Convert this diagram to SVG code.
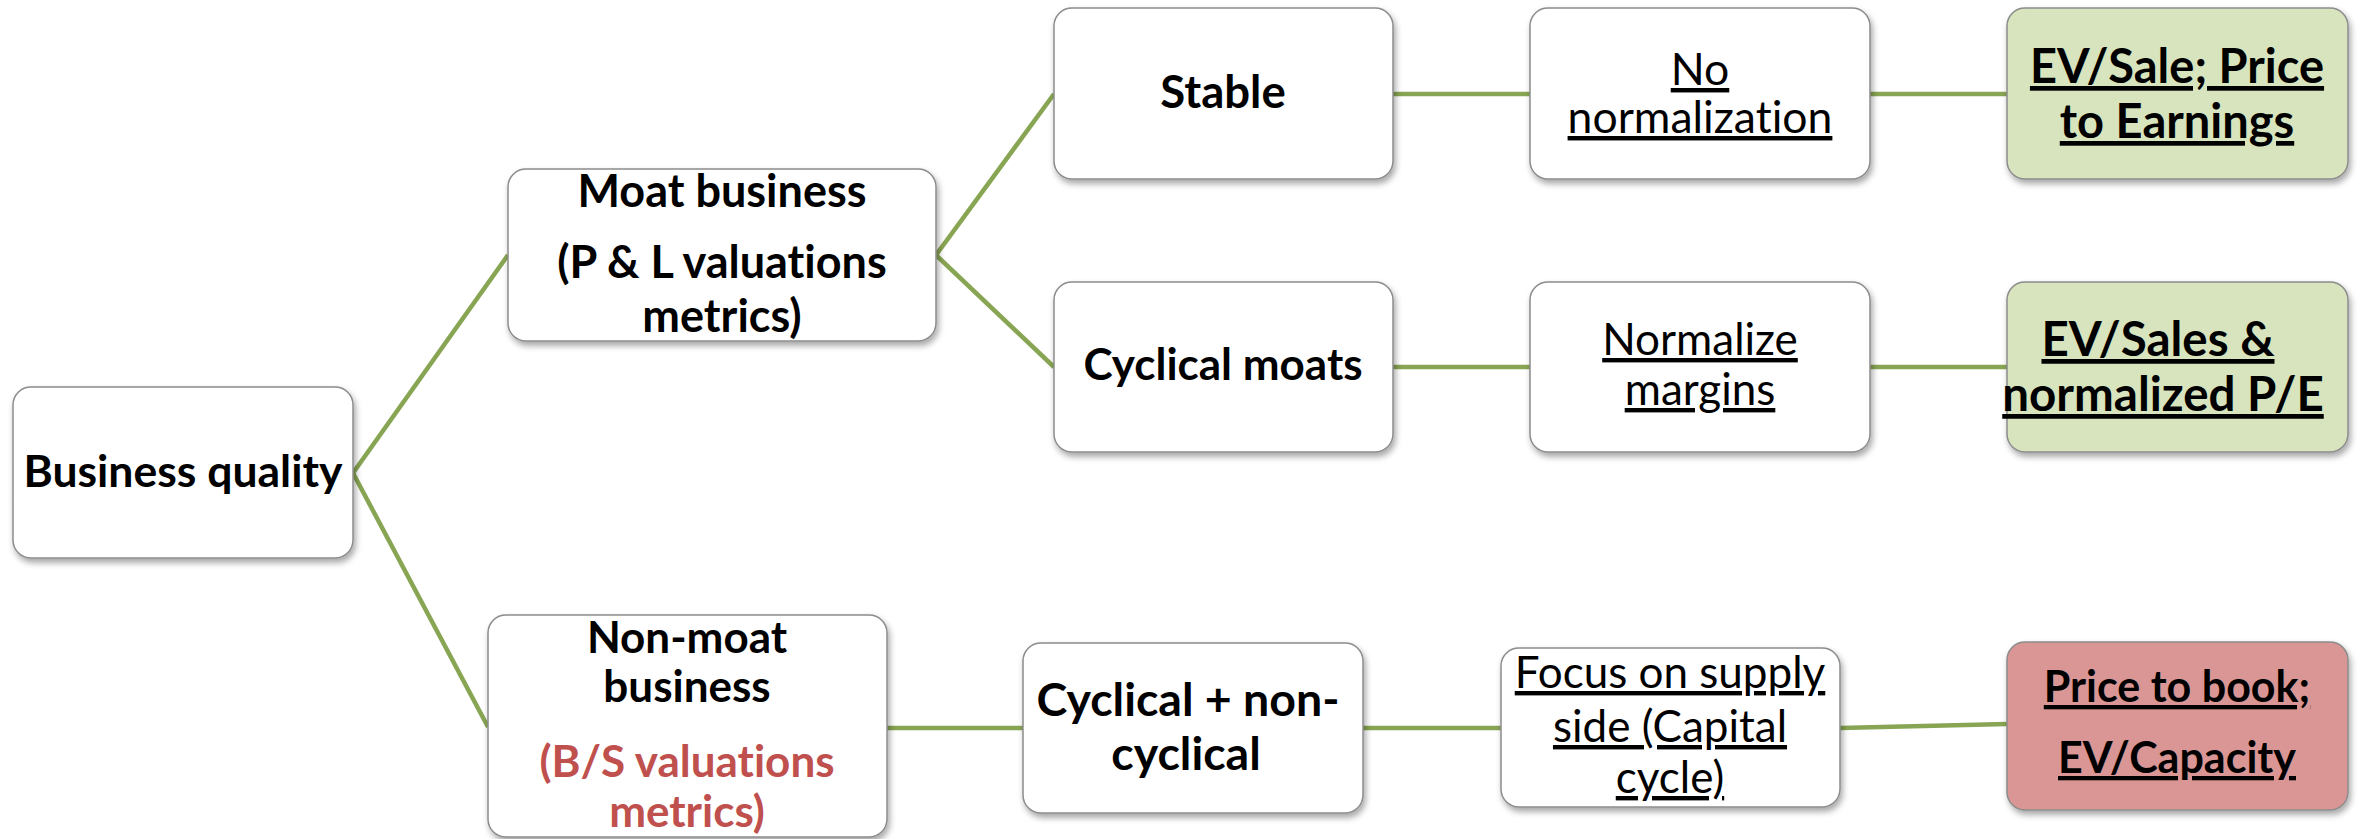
<svg xmlns="http://www.w3.org/2000/svg" width="2358" height="839" viewBox="0 0 2358 839">
  <defs>
    <filter id="shadow" x="-10%" y="-10%" width="120%" height="130%">
      <feDropShadow dx="2" dy="4" stdDeviation="3" flood-color="#000" flood-opacity="0.35"/>
    </filter>
    <style>
      .box { fill: #ffffff; stroke: #8c8c8c; stroke-width: 1.5; filter: url(#shadow); }
      .green { fill: #d7e4bd; }
      .red { fill: #d99694; }
      .link { stroke: #88a553; stroke-width: 4.5; fill: none; }
      text { font-family: Lato, "Open Sans", "Liberation Sans", sans-serif; fill: #000; text-anchor: middle; font-variant-ligatures: none; font-feature-settings: "liga" 0, "clig" 0; }
      .b { font-weight: bold; }
      .u { text-decoration: underline; }
      .rd { fill: #c0504d; }
    </style>
  </defs>
  <rect width="2358" height="839" fill="#ffffff"/>

  <!-- connectors -->
  <g id="connectors">
    <line class="link" x1="353" y1="473" x2="508" y2="255"/>
    <line class="link" x1="353" y1="473" x2="488" y2="727"/>
    <line class="link" x1="936" y1="255" x2="1054" y2="94"/>
    <line class="link" x1="936" y1="255" x2="1054" y2="367"/>
    <line class="link" x1="1393" y1="94" x2="1530" y2="94"/>
    <line class="link" x1="1870" y1="94" x2="2007" y2="94"/>
    <line class="link" x1="1393" y1="367" x2="1530" y2="367"/>
    <line class="link" x1="1870" y1="367" x2="2007" y2="367"/>
    <line class="link" x1="887" y1="728" x2="1023" y2="728"/>
    <line class="link" x1="1363" y1="728" x2="1501" y2="728"/>
    <line class="link" x1="1840" y1="728" x2="2007" y2="724"/>
  </g>

  <g id="business-quality">
    <rect class="box" x="13" y="387" width="340" height="171" rx="18"/>
    <text class="b" x="183" y="487" font-size="44.5">Business quality</text>
  </g>

  <g id="moat-business">
    <rect class="box" x="508" y="169" width="428" height="172" rx="18"/>
    <text class="b" x="722" y="207" font-size="45">Moat business</text>
    <text class="b" x="722" y="278" font-size="45">(P &amp; L valuations</text>
    <text class="b" x="722" y="332" font-size="45">metrics)</text>
  </g>

  <g id="non-moat-business">
    <rect class="box" x="488" y="615" width="399" height="222" rx="18"/>
    <text class="b" x="687" y="653" font-size="44">Non-moat</text>
    <text class="b" x="687" y="702" font-size="44">business</text>
    <text class="b rd" x="687" y="777" font-size="44">(B/S valuations</text>
    <text class="b rd" x="687" y="827" font-size="44">metrics)</text>
  </g>

  <g id="stable">
    <rect class="box" x="1054" y="8" width="339" height="171" rx="18"/>
    <text class="b" x="1223" y="108" font-size="45.5">Stable</text>
  </g>

  <g id="cyclical-moats">
    <rect class="box" x="1054" y="282" width="339" height="170" rx="18"/>
    <text class="b" x="1223" y="380" font-size="44">Cyclical moats</text>
  </g>

  <g id="cyclical-non-cyclical">
    <rect class="box" x="1023" y="643" width="340" height="170" rx="18"/>
    <text class="b" x="1188" y="716" font-size="46.5">Cyclical + non-</text>
    <text class="b" x="1186" y="770" font-size="46.5">cyclical</text>
  </g>

  <g id="no-normalization">
    <rect class="box" x="1530" y="8" width="340" height="171" rx="18"/>
    <text class="u" x="1700" y="85" font-size="44.5">No</text>
    <text class="u" x="1700" y="133" font-size="44.5">normalization</text>
  </g>

  <g id="normalize-margins">
    <rect class="box" x="1530" y="282" width="340" height="170" rx="18"/>
    <text class="u" x="1700" y="355" font-size="44">Normalize</text>
    <text class="u" x="1700" y="405" font-size="44">margins</text>
  </g>

  <g id="focus-supply">
    <rect class="box" x="1501" y="648" width="339" height="159" rx="18"/>
    <text class="u" x="1670" y="688" font-size="44">Focus on supply</text>
    <text class="u" x="1670" y="742" font-size="44">side (Capital</text>
    <text class="u" x="1670" y="793" font-size="44">cycle)</text>
  </g>

  <g id="ev-sale-pe">
    <rect class="box green" x="2007" y="8" width="341" height="171" rx="18"/>
    <text class="b u" x="2177" y="83" font-size="47">EV/Sale; Price</text>
    <text class="b u" x="2177" y="138" font-size="47">to Earnings</text>
  </g>

  <g id="ev-sales-normalized-pe">
    <rect class="box green" x="2007" y="282" width="341" height="170" rx="18"/>
    <text class="b u" x="2158" y="356" font-size="47.5">EV/Sales &amp;</text>
    <text class="b u" x="2163" y="411" font-size="47.5">normalized P/E</text>
  </g>

  <g id="price-to-book">
    <rect class="box red" x="2007" y="642" width="341" height="168" rx="18"/>
    <text class="b u" x="2177" y="702" font-size="43">Price to book;</text>
    <text class="b u" x="2177" y="773" font-size="43">EV/Capacity</text>
  </g>
</svg>
